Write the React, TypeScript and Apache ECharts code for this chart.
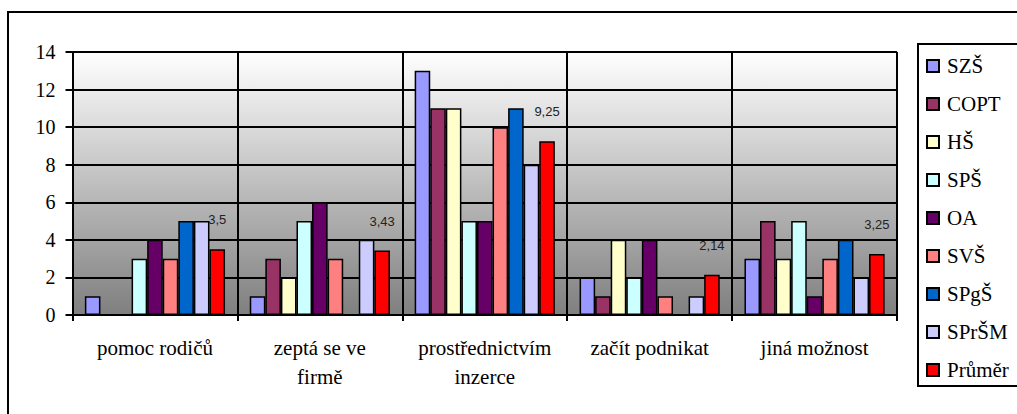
import React, { useEffect, useRef } from "react";
import * as echarts from "echarts";

const categories = [
  "pomoc rodičů",
  "zeptá se ve\nfirmě",
  "prostřednictvím\ninzerce",
  "začít podnikat",
  "jiná možnost",
];

const seriesNames = ["SZŠ", "COPT", "HŠ", "SPŠ", "OA", "SVŠ", "SPgŠ", "SPrŠM", "Průměr"];

const valSZS = [1, 1, 13, 2, 3];
const valCOPT = [0, 3, 11, 1, 5];
const valHS = [0, 2, 11, 4, 3];
const valSPS = [3, 5, 5, 2, 5];
const valOA = [4, 6, 5, 4, 1];
const valSVS = [3, 3, 10, 1, 3];
const valSPgS = [5, 0, 11, 0, 4];
const valSPrSM = [5, 4, 8, 1, 2];
const valPrumer = [3.5, 3.43, 9.25, 2.14, 3.25];

const seriesValues = [valSZS, valCOPT, valHS, valSPS, valOA, valSVS, valSPgS, valSPrSM, valPrumer];

const colors = ["#9999FF", "#993366", "#FFFFCC", "#CCFFFF", "#660066", "#FF8080", "#0066CC", "#CCCCFF", "#FF0000"];

const yTicks = { min: 0, max: 14, interval: 2 };

const SERIF = "Liberation Serif";

export default function App() {
  const ref = useRef<HTMLDivElement>(null);
  useEffect(() => {
    if (!ref.current) return;
    const chart = echarts.init(ref.current, null, { renderer: "svg" });
    const series = seriesNames.map((name, i) => ({
      name,
      type: "bar",
      data: seriesValues[i],
      barGap: "0%",
      barCategoryGap: "15%",
      itemStyle: { color: colors[i], borderColor: "#000", borderWidth: 1.5 },
      label:
        i === seriesNames.length - 1
          ? {
              show: true,
              position: "top",
              distance: 23,
              fontFamily: "Liberation Sans",
              fontSize: 13,
              color: "#222",
              formatter: (p: any) => String(p.value).replace(".", ","),
            }
          : { show: false },
    }));
    chart.setOption({
      animation: false,
      backgroundColor: "#fff",
      textStyle: { fontFamily: SERIF },
      graphic: [
        {
          type: "rect",
          z: -10,
          shape: { x: 8, y: 12, width: 1030, height: 430 },
          style: { fill: "transparent", stroke: "#000", lineWidth: 2 },
        },
        {
          type: "rect",
          z: 0,
          shape: { x: 918, y: 44, width: 120, height: 342 },
          style: { fill: "#fff", stroke: "#000", lineWidth: 2 },
        },
      ],
      legend: {
        orient: "vertical",
        left: 926,
        top: 55.5,
        padding: 0,
        itemWidth: 12,
        itemHeight: 12,
        itemGap: 17,
        icon: "rect",
        z: 5,
        textStyle: {
          fontFamily: SERIF,
          fontSize: 21,
          color: "#000",
          lineHeight: 21,
          padding: [0, 0, 0, 3],
        },
        data: seriesNames,
      },
      grid: {
        left: 72.5,
        top: 52,
        right: 120,
        bottom: 99,
        show: true,
        borderWidth: 0,
        backgroundColor: new echarts.graphic.LinearGradient(0, 0, 0, 1, [
          { offset: 0, color: "#FFFFFF" },
          { offset: 1, color: "#7F7F7F" },
        ]),
      },
      xAxis: {
        type: "category",
        data: categories,
        axisLine: { show: true, lineStyle: { color: "#000", width: 2 } },
        axisTick: { show: true, length: 6, lineStyle: { color: "#000", width: 2 } },
        splitLine: { show: true, lineStyle: { color: "#000", width: 2 } },
        axisLabel: {
          margin: 18,
          fontFamily: SERIF,
          fontSize: 21,
          lineHeight: 29,
          color: "#000",
          interval: 0,
        },
      },
      yAxis: {
        type: "value",
        min: yTicks.min,
        max: yTicks.max,
        interval: yTicks.interval,
        axisLine: { show: true, lineStyle: { color: "#000", width: 2 } },
        axisTick: { show: true, length: 7, lineStyle: { color: "#000", width: 2 } },
        splitLine: { show: true, lineStyle: { color: "#000", width: 2 } },
        axisLabel: {
          margin: 17,
          fontFamily: SERIF,
          fontSize: 20,
          color: "#000",
        },
      },
      series,
    });
    return () => chart.dispose();
  }, []);
  return (
    <div
      ref={ref}
      style={{ position: "fixed", left: 0, top: 0, width: 1017, height: 414, background: "#fff" }}
    />
  );
}
